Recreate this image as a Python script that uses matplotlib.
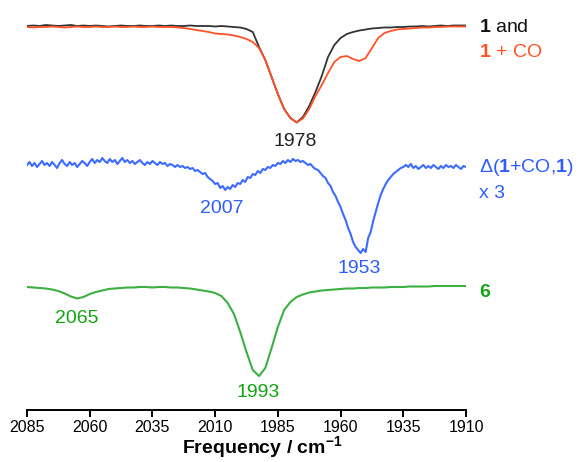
import numpy as np
from matplotlib import pyplot as plt

plt.rcParams['font.family'] = ['Liberation Sans', 'DejaVu Sans']
plt.rcParams['mathtext.fontset'] = 'custom'
plt.rcParams['mathtext.rm'] = 'Liberation Sans'
plt.rcParams['mathtext.bf'] = 'Liberation Sans:bold'

# wavenumber grids (cm-1)
freq = np.linspace(2085, 1910, 71)       # 2.5 cm-1 steps
freq_fine = np.linspace(2085, 1910, 176)  # 1 cm-1 steps

# band depths below each trace's own baseline (arbitrary units)
black_1 = [0, -0.5, 0, -1, -0.5, 0, -0.5, -1, 0, -0.5,
           0, -0.5, 0, 0.5, 0, -0.5, 0, 0, -0.5, 0,
           0, -0.5, 0, -0.5, 0, 0, -0.5, 0, 0, 0,
           0.5, 0, 0.5, 1, 1.5, 3, 6, 21, 34, 51,
           68, 83, 92, 96.5, 91, 80, 66, 50, 31, 19,
           12, 8, 6, 4.5, 3.5, 2.5, 2, 1.5, 1.5, 1,
           1, 0.5, 0.5, 0, 0.5, 0, -0.5, 0, -0.5, -0.5, -0.5]

red_1co = [1, 1.5, 1, 1, 0.5, 1, 1.5, 1, 0.5, 1,
           1, 0.5, 1, 1, 0.5, 1, 1, 0.5, 1, 1,
           0.5, 1, 1, 1, 1.5, 2, 3, 4, 5, 6,
           7.5, 8, 8.5, 9.5, 11, 13, 16, 22, 34, 51,
           68, 83, 92, 96.5, 92.5, 83, 70, 59, 47, 36,
           31, 30, 33, 35, 32, 22, 12, 7, 5, 3.5,
           3, 2.5, 2, 1.5, 1.5, 1, 1, 0.5, 0.5, 0.5, 0.5]

green_6 = [0, 0.5, 1, 1.5, 2.5, 4, 6.5, 9.5, 11.5, 10,
           7, 5, 3.5, 2, 1.5, 1, 0.5, 0.5, 0, 0,
           0.5, 0, 0, 0.5, 0.5, 1, 1.5, 2.5, 3.5, 4.5,
           6, 9, 16, 27, 45, 65, 83, 89, 81, 61,
           40, 23, 15, 10, 7.5, 5.5, 4.5, 3.5, 3, 2.5,
           2, 1.5, 1.5, 1, 1, 0.5, 0.5, 0.5, 0, 0,
           0, -0.5, -0.5, -0.5, -0.5, -1, -1, -1, -1, -1, -1]

blue_diff = [1, -2, 2, -1, 3, 0, -3, 1, -1, 2,
             -2, 1, 4, -1, -4, 0, 2, -2, 1, -1,
             3, 0, -3, -1, 2, -2, -5, -1, -4, -2,
             -6, -3, -1, -5, -2, -4, 0, -3, -6, -2,
             -4, -1, -3, 0, -2, -4, -1, 1, -2, 0,
             -3, -1, 1, -2, 0, -1, 2, 0, 1, 3,
             1, 3, 2, 4, 3, 5, 4, 7, 6, 8,
             10, 9, 13, 15, 17, 20, 19, 24, 22, 26,
             23, 25, 21, 23, 19, 20, 16, 18, 13, 14,
             10, 11, 7, 9, 5, 6, 3, 4, 1, 2,
             -1, 0, -3, -1, -4, -2, -5, -3, -4, -2,
             -3, -1, 1, 0, 3, 5, 6, 9, 12, 14,
             19, 22, 28, 32, 38, 43, 50, 56, 64, 70,
             78, 83, 86, 89, 85, 88, 74, 68, 57, 48,
             39, 31, 25, 20, 16, 13, 10, 8, 6, 4,
             3, 1, 3, 0, 4, 2, 5, 3, 1, 4,
             2, 4, 1, 3, 5, 2, 4, 1, 3, 2,
             4, 1, 3, 5, 2, 3]

ticks = [2085, 2060, 2035, 2010, 1985, 1960, 1935, 1910]

c_black = '#333333'
c_red = '#ff5226'
c_blue = '#3d6bff'
c_green = '#3cb043'
t_blue = '#2e5cff'
t_green = '#13a313'

fig = plt.figure(figsize=(5.81, 4.62), dpi=100)
ax = fig.add_axes([27/581, 1 - 410/462, 439/581, 400/462])

off_top, off_mid, off_bot = -26, -164, -287
ax.plot(freq, off_top - np.array(black_1), color=c_black, lw=1.3)
ax.plot(freq, off_top - np.array(red_1co), color=c_red, lw=1.3)
ax.plot(freq_fine, off_mid - np.array(blue_diff), color=c_blue, lw=1.5)
ax.plot(freq, off_bot - np.array(green_6), color=c_green, lw=1.5)

ax.set_xlim(2085, 1910)
ax.set_ylim(-410, -10)
ax.set_xticks(ticks)
ax.set_yticks([])
for s in ['left', 'right', 'top']:
    ax.spines[s].set_visible(False)
ax.spines['bottom'].set_linewidth(1.4)
ax.tick_params(axis='x', direction='out', length=5, width=1.4, labelsize=11.5, pad=2.5)
ax.set_xlabel('Frequency / cm$^{\\mathbf{-1}}$', fontsize=14, fontweight='bold')
ax.xaxis.set_label_coords(0.535, -0.06)

# peak labels
ax.text(1978, -141, '1978', color='#222222', fontsize=14, ha='center', va='center')
ax.text(2007.3, -208, '2007', color=t_blue, fontsize=14, ha='center', va='center')
ax.text(1952.7, -268, '1953', color=t_blue, fontsize=14, ha='center', va='center')
ax.text(2065, -318, '2065', color=t_green, fontsize=14, ha='center', va='center')
ax.text(1993, -392, '1993', color=t_green, fontsize=14, ha='center', va='center')

# trace labels
tr = ax.get_yaxis_transform()
xl = (479 - 27) / 439
ax.text(xl, -27, '$\\mathbf{1}$ and', color='#111111', fontsize=14, va='center', transform=tr)
ax.text(xl, -52, '$\\mathbf{1}$ + CO', color=c_red, fontsize=14, va='center', transform=tr)
ax.text(xl, -167, 'Δ($\\mathbf{1}$+CO,$\\mathbf{1}$)', color=t_blue, fontsize=14, va='center', transform=tr)
ax.text(xl, -193, 'x 3', color=t_blue, fontsize=14, va='center', transform=tr)
ax.text(xl, -292, '6', color=t_green, fontsize=14, fontweight='bold', va='center', transform=tr)

fig.savefig('out.png', dpi=100)
